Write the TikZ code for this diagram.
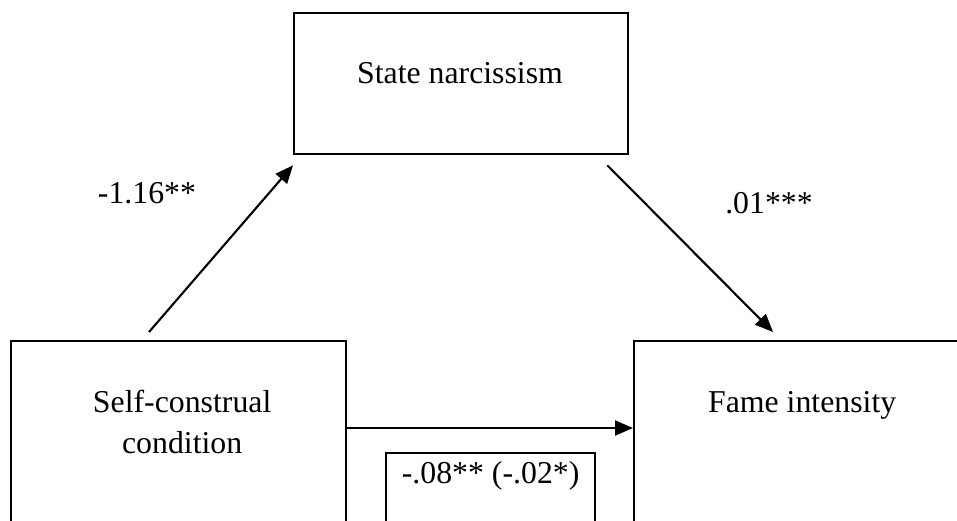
\documentclass[tikz,border=0pt]{standalone}
\usepackage{fontspec}
\setmainfont{Liberation Serif}
\usepackage{tikz}
\usetikzlibrary{arrows.meta,calc,positioning}

\begin{document}
\begin{tikzpicture}[x=1pt,y=-1pt,
        box/.style={draw,line width=2.3pt,inner sep=0pt},
        lbl/.style={font=\fontsize{31.8}{38}\selectfont,inner sep=0pt,anchor=base},
        arr/.style={line width=2.1pt,-{Triangle[length=18pt,width=15pt]}}]
        \clip (0,0) rectangle (957,520);
        \fill[white] (0,0) rectangle (957,520);
        % Mediator
        \node[box,minimum width=334pt,minimum height=141pt,anchor=north west] (state) at (293,12) {};
        \node[lbl] (statetxt) at (460,83) {State narcissism};
        % Predictor
        \node[box,minimum width=335pt,minimum height=260pt,anchor=north west] (self) at (10,340) {};
        \node[lbl] (selftxt) at ($(self.north)+(3.5,72)$) {Self-construal};
        \node[lbl] (selftxt2) at ($(selftxt.base)+(0,41)$) {condition};
        % Outcome
        \node[box,minimum width=335pt,minimum height=260pt,anchor=north west] (fame) at (633,340) {};
        \node[lbl] (fametxt) at ($(fame.north)+(0.5,72)$) {Fame intensity};
        % Direct effect
        \node[box,minimum width=209pt,minimum height=108pt,anchor=north west] (coef) at (385,452) {};
        \node[lbl] (coeftxt) at ($(coef.north)+(0,31)$) {-.08** (-.02*)};
        % Paths
        \draw[arr] ($(self.north west)+(139,-8)$) -- ($(state.south west)+(0,10)$);
        \draw[arr] ($(state.south east)+(-22,10)$) -- ($(fame.north west)+(140,-8)$);
        \draw[arr] ($(self.north east)+(0,88)$) -- ($(fame.north west)+(0,88)$);
        \node[lbl] (pathA) at (147,203) {-1.16**};
        \node[lbl] (pathB) at (769,213) {.01***};
\end{tikzpicture}
\end{document}
